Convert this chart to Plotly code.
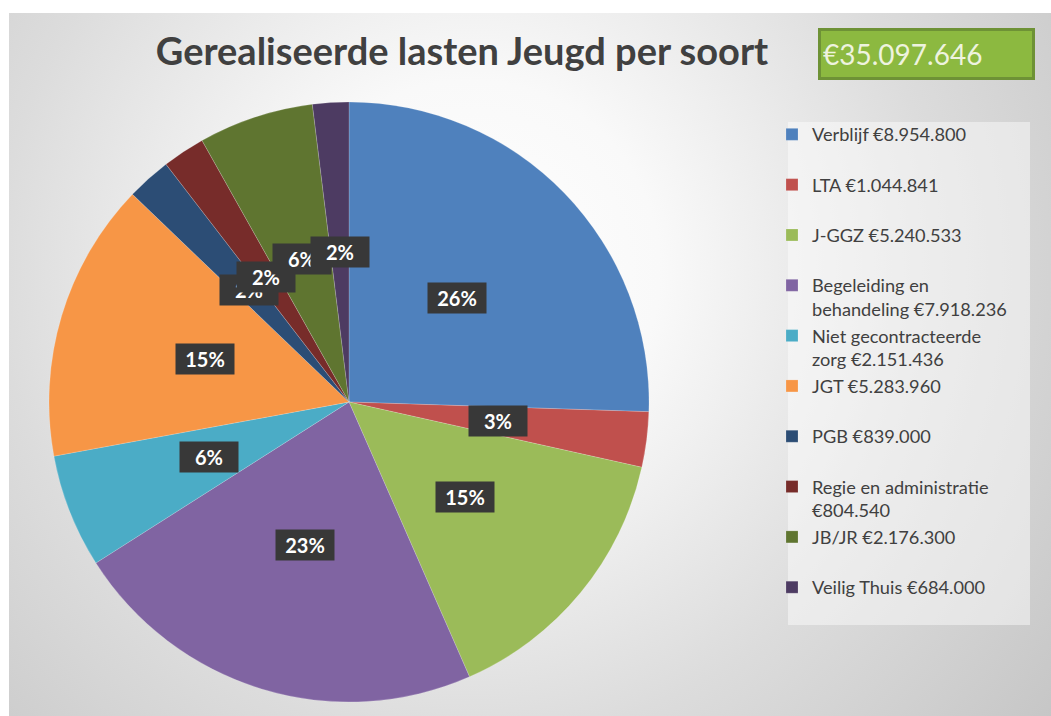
import math
import base64
import textwrap
import plotly.graph_objects as go

# ---- data ----
categories = ["Verblijf", "LTA", "J-GGZ", "Begeleiding en behandeling",
              "Niet gecontracteerde zorg", "JGT", "PGB", "Regie en administratie",
              "JB/JR", "Veilig Thuis"]
values = [8954800, 1044841, 5240533, 7918236, 2151436, 5283960, 839000, 804540, 2176300, 684000]
colors = ["#4F81BD", "#C0504D", "#9BBB59", "#8064A2", "#4BACC6",
          "#F79646", "#2C4D75", "#772C2A", "#5F7530", "#4D3B62"]
title_text = "Gerealiseerde lasten Jeugd per soort"

W, H = 1051, 716
FONT = "Lato"


def eur(v):
    return "€" + f"{v:,}".replace(",", ".")


total = sum(values)

legend_labels = []
for c, v in zip(categories, values):
    lines = textwrap.wrap(f"{c} {eur(v)}", width=22)
    if len(lines) == 1:
        lines.append("&nbsp;")
    legend_labels.append("<br>".join(lines))

# pie geometry (pixels)
PCX, PCY, PR = 349, 402, 300
dom_x = [(PCX - PR) / W, (PCX + PR) / W]
dom_y = [1 - (PCY + PR) / H, 1 - (PCY - PR) / H]

fig = go.Figure()
fig.add_trace(go.Pie(
    labels=legend_labels,
    values=values,
    marker=dict(colors=colors, line=dict(color="rgba(255,255,255,0.35)", width=0.5)),
    sort=False,
    direction="clockwise",
    rotation=0,
    textinfo="none",
    hovertemplate="%{label}<br>%{percent}<extra></extra>",
    domain=dict(x=dom_x, y=dom_y),
))

# percentage label boxes at half radius of each slice
annotations = []
cum = 0
for v in values:
    mid = (cum + v / 2) / total
    cum += v
    ang = 2 * math.pi * mid
    px = PCX + 0.5 * PR * math.sin(ang)
    py = PCY - 0.5 * PR * math.cos(ang)
    pct = round(100 * v / total)
    annotations.append(dict(
        x=px / W, y=1 - py / H, xref="paper", yref="paper",
        text=f"<b>{pct}%</b>", showarrow=False,
        font=dict(family=FONT, size=20, color="#FFFFFF"),
        bgcolor="#383838", width=52, height=24, borderpad=3,
        xanchor="center", yanchor="middle",
    ))

# total box
annotations.append(dict(
    x=(818 + 1035) / 2 / W, y=1 - 54 / H, xref="paper", yref="paper",
    text=eur(total), showarrow=False, align="left",
    font=dict(family=FONT, size=28, color="#EEF3DF"),
    bgcolor="#8CB940", bordercolor="#6E9236", borderwidth=3,
    width=207, height=42, borderpad=2,
    xanchor="center", yanchor="middle",
))

# background radial gradient as svg
svg = f'''<svg xmlns="http://www.w3.org/2000/svg" width="{W}" height="{H}" viewBox="0 0 {W} {H}">
<defs><radialGradient id="g" gradientUnits="userSpaceOnUse" cx="470" cy="270" r="760">
<stop offset="0" stop-color="#FFFFFF"/>
<stop offset="0.25" stop-color="#F9F9F9"/>
<stop offset="0.62" stop-color="#DCDCDC"/>
<stop offset="1" stop-color="#C4C4C4"/>
</radialGradient></defs>
<rect x="0" y="0" width="{W}" height="{H}" fill="#FFFFFF"/>
<rect x="9" y="13" width="{W-9}" height="{H-13}" fill="url(#g)"/>
</svg>'''
src = "data:image/svg+xml;base64," + base64.b64encode(svg.encode()).decode()

fig.update_layout(
    width=W, height=H,
    margin=dict(l=0, r=0, t=0, b=0),
    paper_bgcolor="#FFFFFF",
    font=dict(family=FONT, color="#404040"),
    title=dict(text=f"<b>{title_text}</b>", x=462 / W, y=1 - 52 / H,
               xanchor="center", yanchor="middle",
               font=dict(family=FONT, size=38, color="#404040")),
    images=[dict(source=src, xref="paper", yref="paper", x=0, y=1,
                 sizex=1, sizey=1, xanchor="left", yanchor="top",
                 sizing="stretch", layer="below")],
    shapes=[dict(type="rect", xref="paper", yref="paper",
                 x0=788 / W, x1=1030 / W, y0=1 - 625 / H, y1=1 - 122 / H,
                 fillcolor="rgba(255,255,255,0.45)", line=dict(width=0),
                 layer="below")],
    legend=dict(x=772 / W, y=1 - 116 / H, xanchor="left", yanchor="top",
                bgcolor="rgba(0,0,0,0)", borderwidth=0,
                font=dict(family=FONT, size=18.2, color="#404040"),
                valign="top", traceorder="normal"),
    annotations=annotations,
    showlegend=True,
)

fig.write_html("out.html", config={"displayModeBar": False},
               post_script="document.body.style.margin='0';document.body.style.overflow='hidden';")
